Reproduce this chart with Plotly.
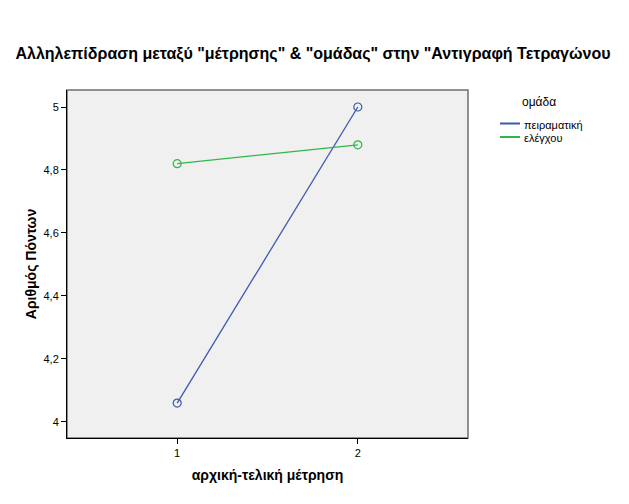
import plotly.graph_objects as go

measurement = [1, 2]
groups = ["πειραματική", "ελέγχου"]
values = {
    "πειραματική": [4.06, 5.0],
    "ελέγχου": [4.82, 4.88],
}
colors = {"πειραματική": "#3E58AC", "ελέγχου": "#2EB848"}
y_ticks = [4.0, 4.2, 4.4, 4.6, 4.8, 5.0]
y_tick_labels = ["4", "4,2", "4,4", "4,6", "4,8", "5"]
x_ticks = [1, 2]
x_tick_labels = ["1", "2"]

FONT = "Liberation Sans, Arial, sans-serif"

# page offset (browser body margin)
OFF = 8
PL, PR, PT, PB = 67, 468, 90, 438  # plot frame in page pixels
W, H = 629, 504


def px(xp):
    return (xp - PL) / (PR - PL)


def py(yp):
    return 1 - (yp - PT) / (PB - PT)


fig = go.Figure()
for g in groups:
    fig.add_trace(go.Scatter(
        x=measurement, y=values[g], mode="lines+markers", showlegend=False,
        line=dict(color=colors[g], width=1.3),
        marker=dict(symbol="circle-open", size=8, color=colors[g], line=dict(width=1.2)),
        name=g,
    ))

fig.update_layout(
    width=W, height=H,
    margin=dict(l=PL - OFF, r=W - (PR - OFF), t=PT - OFF, b=H - (PB - OFF)),
    paper_bgcolor="white", plot_bgcolor="#F0F0F0",
    font=dict(family=FONT, color="black", size=11),
    title=dict(
        text='Αλληλεπίδραση μεταξύ "μέτρησης" & "ομάδας" στην "Αντιγραφή Τετραγώνου',
        x=(313 - OFF) / W, xanchor="center", y=1 - (53 - OFF) / H, yanchor="middle",
        font=dict(family=FONT, size=16, color="black", weight="bold"),
    ),
    xaxis=dict(
        range=[0.39, 2.61], tickvals=x_ticks, ticktext=x_tick_labels,
        showgrid=False, zeroline=False, showline=True, linecolor="black", linewidth=1,
        ticks="outside", ticklen=5, tickcolor="black", mirror=False,
        tickfont=dict(family=FONT, size=11),
        title=dict(text="αρχική-τελική μέτρηση", standoff=11,
                   font=dict(family=FONT, size=14, weight="bold")),
    ),
    yaxis=dict(
        range=[3.949, 5.054], tickvals=y_ticks, ticktext=y_tick_labels,
        showgrid=False, zeroline=False, showline=True, linecolor="black", linewidth=1,
        ticks="outside", ticklen=5, tickcolor="black",
        tickfont=dict(family=FONT, size=11),
        title=dict(text="Αριθμός Πόντων", standoff=3,
                   font=dict(family=FONT, size=14, weight="bold")),
    ),
    showlegend=False,
)
fig.add_shape(type="rect", xref="paper", yref="paper", x0=0, x1=1, y0=0, y1=1,
              line=dict(color="#6E6E6E", width=1.5), layer="below")

# manual legend (SPSS style)
fig.add_annotation(text="ομάδα", xref="paper", yref="paper",
                   x=px(520), y=py(102), xanchor="left", yanchor="middle",
                   showarrow=False, font=dict(family=FONT, size=12, color="black"))
legend_rows = [123.5, 137]
for g, yrow in zip(groups, legend_rows):
    fig.add_shape(type="line", xref="paper", yref="paper",
                  x0=px(500), x1=px(520), y0=py(yrow), y1=py(yrow),
                  line=dict(color=colors[g], width=2))
    fig.add_annotation(text=g, xref="paper", yref="paper",
                       x=px(522), y=py(yrow + 1), xanchor="left", yanchor="middle",
                       showarrow=False, font=dict(family=FONT, size=11, color="black"))

fig.write_html("out.html")
